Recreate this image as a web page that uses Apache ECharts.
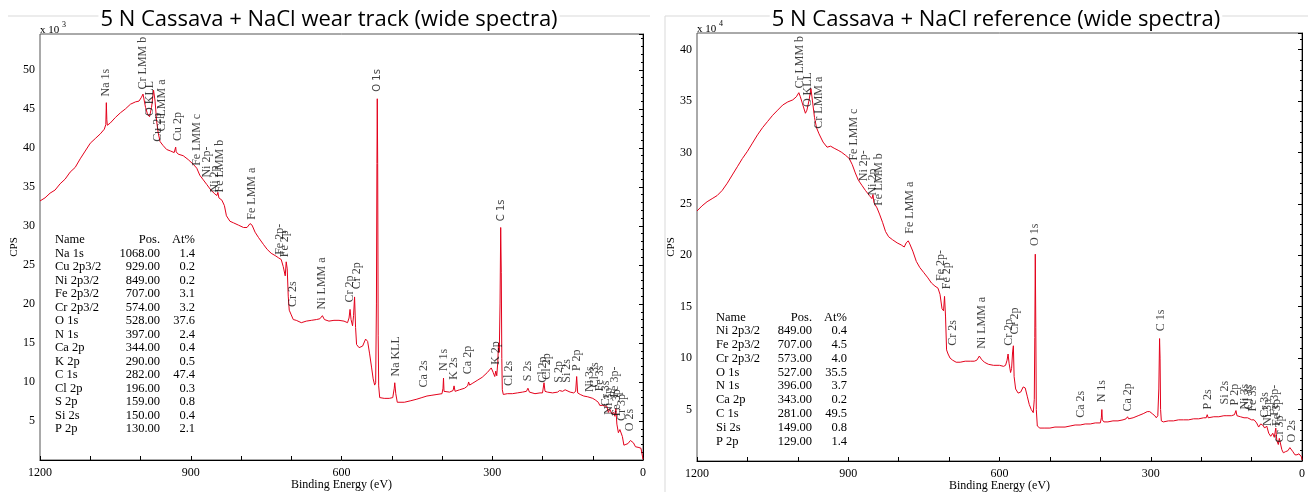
<!DOCTYPE html>
<html>
<head>
<meta charset="utf-8">
<script src="https://cdn.jsdelivr.net/npm/echarts@6/dist/echarts.min.js"></script>
<style>
html,body{margin:0;padding:0;background:#fff}
#chart{width:1308px;height:492px}
</style>
</head>
<body>
<div id="chart"></div>
<script>
// XPS survey spectra, [binding energy (eV), CPS]
// wear track in units of 10^3 CPS, reference in units of 10^4 CPS
var wearSpectrum = [
  [1200,33.2],[1190,33.6],[1180,34.2],[1170,34.6],[1160,35.4],[1150,36.0],[1140,36.9],[1130,37.5],
  [1120,38.6],[1110,39.6],[1100,40.6],[1090,41.2],[1080,41.8],[1072,42.4],[1069,43.0],[1068,45.8],
  [1067,43.6],[1066,42.9],[1060,43.2],[1050,43.9],[1040,44.5],[1030,45.0],[1020,45.6],[1010,45.9],
  [1003,46.0],[998,46.5],[995,46.9],[990,45.2],[986,44.3],[982,44.0],[978,45.2],[974,47.4],
  [971,46.0],[968,43.5],[965,42.0],[961,40.8],[955,40.3],[948,39.8],[940,39.6],[933,39.4],
  [931,39.6],[930,40.1],[929,39.5],[925,39.2],[915,39.0],[905,38.5],[895,37.9],[888,37.4],
  [882,36.5],[875,35.9],[868,35.3],[860,34.6],[852,34.1],[848,33.9],[846,34.3],[844,33.6],
  [838,33.3],[833,32.6],[829,31.3],[822,30.6],[815,30.4],[805,30.1],[795,29.8],[788,29.8],
  [782,30.3],[778,30.1],[772,29.2],[765,28.5],[755,27.6],[748,27.0],[740,26.5],[732,26.2],
  [725,25.9],[720,25.7],[716,24.8],[712,23.6],[710,25.4],[708,24.5],[706,21.0],[704,19.2],
  [700,18.6],[696,18.0],[690,17.9],[680,17.6],[670,17.8],[660,17.9],[650,18.0],[643,18.1],
  [638,18.5],[634,18.0],[625,17.8],[615,17.9],[605,17.9],[595,17.8],[588,17.6],[585,18.2],
  [583,19.3],[581,18.0],[578,17.2],[576,18.5],[574,20.9],[572,17.0],[570,14.8],[565,14.4],
  [558,14.6],[552,15.5],[548,15.2],[544,13.6],[540,11.8],[537,10.4],[534,9.6],[532,9.9],
  [530.5,20],[529.5,38],[528.8,46.3],[528,38],[527,16],[526,9.5],[524,8.0],[515,7.9],
  [505,7.9],[498,8.0],[495,9.2],[494,9.9],[492,8.5],[489,7.4],[486,7.2],[475,7.4],
  [462,7.6],[450,7.8],[440,8.0],[430,8.2],[420,8.3],[410,8.4],[400,8.5],[398,9.2],
  [397,10.5],[396,8.8],[393,8.6],[385,8.7],[378,8.9],[376,9.5],[374,8.8],[365,9.0],
  [355,9.2],[349,9.5],[347,10.0],[345,9.6],[340,9.8],[330,10.2],[320,10.6],[310,11.2],
  [302,11.8],[298,11.2],[295,10.7],[293,11.4],[291,10.8],[289,12.5],[287.5,15.0],[286,13.8],
  [284.5,20],[283.2,29.8],[282,24],[281,13],[280,9.0],[278,8.4],[270,8.5],[260,8.5],
  [250,8.6],[240,8.7],[232,8.8],[229,9.2],[226,8.7],[215,8.5],[205,8.6],[200,8.6],
  [197,9.9],[195,8.8],[190,8.7],[180,8.6],[170,8.7],[166,8.9],[160,8.8],[155,9.0],
  [152,8.8],[145,8.7],[138,8.6],[134,8.8],[132,10.7],[130,8.6],[125,8.4],[118,8.2],
  [110,8.1],[100,7.9],[95,7.7],[92,7.9],[89,7.4],[86,7.0],[80,7.0],[76,6.9],
  [72,6.9],[69,6.1],[66,6.5],[62,5.9],[58,6.1],[56,5.6],[54,6.6],[52,4.6],
  [49,3.5],[46,3.9],[43,4.1],[41,3.0],[38,1.9],[34,2.0],[30,2.1],[25,2.5],
  [22,2.7],[19,2.2],[15,1.7],[12,1.5],[8,1.6],[4,1.5],[2,1.3],[0,0.1]
];

var refSpectrum = [
  [1200,24.3],[1190,24.8],[1180,25.2],[1170,25.5],[1160,25.8],[1150,26.3],[1140,27.0],[1130,27.8],
  [1120,28.6],[1110,29.4],[1100,30.1],[1090,30.9],[1080,31.7],[1070,32.4],[1060,33.0],[1050,33.6],
  [1040,34.1],[1030,34.6],[1020,34.9],[1010,35.1],[1003,35.4],[998,35.8],[995,35.4],[990,34.6],
  [985,33.8],[982,34.1],[978,35.0],[974,36.2],[971,35.0],[967,33.4],[963,32.4],[958,31.8],
  [950,31.0],[942,30.5],[935,30.6],[928,30.4],[920,30.2],[913,30.0],[905,29.7],[898,29.4],
  [892,28.8],[886,28.0],[880,27.3],[873,26.8],[866,26.3],[858,25.8],[853,25.5],[851,25.9],
  [849,25.1],[843,24.6],[838,24.0],[832,23.2],[826,22.3],[820,21.8],[812,21.5],[803,21.2],
  [795,21.0],[789,20.8],[785,21.2],[781,21.4],[778,21.1],[772,20.4],[765,19.4],[758,18.8],
  [750,18.3],[742,17.8],[735,17.3],[728,17.0],[722,16.8],[718,16.2],[714,14.8],[711,14.6],
  [709,16.0],[707,14.0],[705,10.8],[702,10.4],[698,10.0],[693,9.8],[686,9.6],[678,9.6],
  [668,9.7],[658,9.7],[650,9.7],[645,9.8],[640,10.2],[636,9.9],[630,9.6],[622,9.4],
  [612,9.3],[600,9.3],[592,9.2],[588,9.3],[585,9.8],[583,10.4],[581,9.5],[578,8.6],
  [576,9.0],[574,10.6],[572.5,11.2],[571,8.2],[568,7.0],[563,6.6],[558,6.7],[553,7.2],
  [549,7.1],[545,6.3],[541,5.5],[537,5.0],[533,4.7],[531,6],[530,12],[529,20.1],
  [528,13],[527,5],[525,3.4],[520,3.2],[510,3.2],[500,3.2],[490,3.3],[480,3.3],
  [470,3.3],[460,3.4],[450,3.5],[440,3.5],[430,3.6],[420,3.6],[410,3.7],[400,3.7],
  [398,4.2],[397,5.0],[396,4.0],[393,3.8],[385,3.8],[375,3.9],[365,3.9],[355,4.0],
  [349,4.1],[346,4.3],[344,4.1],[335,4.2],[325,4.4],[315,4.6],[307,4.8],[302,4.8],
  [297,4.6],[292,4.4],[289,4.2],[286,4.4],[284,7],[282.5,11.9],[281.5,10],[280.5,5],
  [279,3.9],[275,3.8],[265,3.9],[255,3.9],[245,4.0],[235,4.0],[225,4.0],[215,4.1],
  [205,4.1],[195,4.2],[190,4.2],[188,4.5],[186,4.2],[175,4.3],[165,4.3],[155,4.4],
  [152,4.5],[149,4.4],[140,4.4],[134,4.5],[131,4.9],[129,4.4],[122,4.3],[115,4.2],
  [108,4.2],[100,4.0],[95,4.0],[90,3.7],[86,3.3],[82,3.6],[78,3.5],[74,3.2],
  [70,3.4],[66,2.7],[62,2.4],[58,2.7],[55,2.3],[52,3.2],[50,2.0],[47,1.6],
  [45,2.2],[42,2.2],[40,1.1],[37,0.8],[33,0.9],[28,1.0],[24,1.3],[21,1.3],
  [18,0.9],[14,0.6],[10,0.6],[6,0.7],[3,0.8],[1,0.4],[0,0.1]
];

// peak annotations: [label, binding energy, height where the text starts]
var wearPeakLabels = [
  ['Na 1s',1068,46.6],['Cr LMM b',996,47.5],['O KLL',981,44.1],['Cu 2p',966,40.8],
  ['Cr LMM a',958,42.1],['Cu 2p',925,40.9],['Fe LMM c',888,37.7],['Ni 2p-',868,36.2],
  ['Ni 2p',852,34.3],['Fe LMM b',842,34.3],['Fe LMM a',779,30.8],['Fe 2p-',722,26.3],
  ['Fe 2p',712,26.0],['Cr 2s',696,19.6],['Ni LMM a',640,19.3],['Cr 2p',584,20.2],
  ['Cr 2p',570,21.9],['O 1s',528,47.2],['Na KLL',492,10.7],['Ca 2s',436,9.3],
  ['N 1s',397,11.4],['K 2s',376,10.3],['Ca 2p',348,11.0],['K 2p',293,12.2],
  ['C 1s',282,30.6],['Cl 2s',267,9.5],['S 2s',230,10.1],['Cl 2p',199,9.9],
  ['Cl 2p',192,10.3],['S 2p',168,9.9],['Si 2s',152,9.9],['P 2p',132,11.4],
  ['Ni 3s',105,8.7],['Cl 3s',96,9.3],['Fe 3s',86,8.8],['Cr 3s',74,6.9],
  ['Ni 3p',68,5.8],['Fe 3p-',56,8.0],['Fe 3p',52,5.6],['Cr 3p',42,5.0],['O 2s',26,3.7]
];

var refPeakLabels = [
  ['Cr LMM b',997,36.2],['O KLL',981,34.4],['Cr LMM a',958,32.3],['Fe LMM c',889,29.2],
  ['Ni 2p-',869,27.2],['Ni 2p',852,25.8],['Fe LMM b',839,24.8],['Fe LMM a',777,22.1],
  ['Fe 2p-',717,17.5],['Fe 2p',704,16.7],['Cr 2s',692,11.2],['Ni LMM a',635,10.9],
  ['Cr 2p',582,11.2],['Cr 2p',569,12.3],['O 1s',529,20.9],['Ca 2s',438,4.2],
  ['N 1s',397,5.7],['Ca 2p',345,4.8],['C 1s',280,12.6],['P 2s',186,5.0],
  ['Si 2s',153,5.5],['P 2p',133,5.4],['Ni 3s',114,5.0],['Cl 3s',105,5.0],
  ['Fe 3s',98,4.8],['Cr 3s',74,4.2],['Ni 3p',67,3.4],['Fe 3p-',54,4.4],
  ['Fe 3p',49,3.4],['Cr 3p',44,1.8],['O 2s',21,1.8]
];

// quantification tables: name, position (eV), atomic %
var wearNames = ['Na 1s','Cu 2p3/2','Ni 2p3/2','Fe 2p3/2','Cr 2p3/2','O 1s','N 1s','Ca 2p','K 2p','C 1s','Cl 2p','S 2p','Si 2s','P 2p'];
var wearPos = ['1068.00','929.00','849.00','707.00','574.00','528.00','397.00','344.00','290.00','282.00','196.00','159.00','150.00','130.00'];
var wearAt = ['1.4','0.2','0.2','3.1','3.2','37.6','2.4','0.4','0.5','47.4','0.3','0.8','0.4','2.1'];

var refNames = ['Ni 2p3/2','Fe 2p3/2','Cr 2p3/2','O 1s','N 1s','Ca 2p','C 1s','Si 2s','P 2p'];
var refPos = ['849.00','707.00','573.00','527.00','396.00','343.00','281.00','149.00','129.00'];
var refAt = ['0.4','4.5','4.0','35.5','3.7','0.2','49.5','0.8','1.4'];

var titles = ['5 N Cassava + NaCl wear track (wide spectra)', '5 N Cassava + NaCl reference (wide spectra)'];

var SERIF = 'Liberation Serif';
var chart = echarts.init(document.getElementById('chart'));

function xAxisFor(idx) {
  return {
    type: 'value', gridIndex: idx, inverse: true, min: 0, max: 1200, interval: 100,
    name: 'Binding Energy (eV)', nameLocation: 'middle', nameGap: 19, nameMoveOverlap: false,
    nameTextStyle: {fontFamily: SERIF, fontSize: 12, color: '#000'},
    axisLine: {lineStyle: {color: '#000', width: 1}},
    axisTick: {inside: true, length: 4, lineStyle: {color: '#000'}},
    axisLabel: {fontFamily: SERIF, fontSize: 12, color: '#000', margin: 7,
      formatter: function (v) { return v % 300 === 0 ? String(v) : ''; }},
    splitLine: {show: false}
  };
}

function yAxisFor(idx, top) {
  return {
    type: 'value', gridIndex: idx, min: 0, max: top, interval: 5,
    name: 'CPS', nameLocation: 'middle', nameGap: 20, nameRotate: 90, nameMoveOverlap: false,
    nameTextStyle: {fontFamily: SERIF, fontSize: 11, color: '#000'},
    axisLine: {show: true, lineStyle: {color: '#000', width: 1}},
    axisTick: {length: 4, lineStyle: {color: '#000'}},
    minorTick: {show: true, splitNumber: 5, length: 2, lineStyle: {color: '#000'}},
    axisLabel: {fontFamily: SERIF, fontSize: 12, color: '#000', margin: 5,
      formatter: function (v) { return (v > 0 && v % 5 === 0) ? String(v) : ''; }},
    splitLine: {show: false}
  };
}

// the wear-track plot prints its two main peak names in a smaller sans face
function labelSeries(list, idx, sansNames) {
  return {
    type: 'scatter', xAxisIndex: idx, yAxisIndex: idx, silent: true,
    symbolSize: 1, itemStyle: {color: 'rgba(0,0,0,0)'},
    data: list.map(function (p) { return {name: p[0], value: [p[1], p[2]]}; }),
    label: {show: true, position: 'inside', rotate: 90,
      align: 'left', verticalAlign: 'middle',
      formatter: function (p) {
        return sansNames.indexOf(p.name) >= 0 ? '{s|' + p.name + '}' : p.name;
      },
      rich: {s: {fontFamily: 'DejaVu Sans', fontSize: 10, color: '#111'}},
      fontFamily: SERIF, fontSize: 12, color: '#111'},
    z: 5
  };
}

function tableGraphics(names, pos, at, x0, xPos, xAt, yHead, y0, dy) {
  var els = [];
  var font = '12.5px "' + SERIF + '"';
  els.push({type: 'text', x: x0, y: yHead, style: {text: 'Name', font: font, fill: '#000', verticalAlign: 'middle'}});
  els.push({type: 'text', x: xPos, y: yHead, style: {text: 'Pos.', font: font, fill: '#000', align: 'right', verticalAlign: 'middle'}});
  els.push({type: 'text', x: xAt, y: yHead, style: {text: 'At%', font: font, fill: '#000', align: 'right', verticalAlign: 'middle'}});
  for (var i = 0; i < names.length; i++) {
    var y = y0 + i * dy;
    els.push({type: 'text', x: x0, y: y, style: {text: names[i], font: font, fill: '#000', verticalAlign: 'middle'}});
    els.push({type: 'text', x: xPos, y: y, style: {text: pos[i], font: font, fill: '#000', align: 'right', verticalAlign: 'middle'}});
    els.push({type: 'text', x: xAt, y: y, style: {text: at[i], font: font, fill: '#000', align: 'right', verticalAlign: 'middle'}});
  }
  return els;
}

var graphics = [
  {type: 'line', shape: {x1: 8, y1: 16, x2: 650, y2: 16}, style: {stroke: '#d9d9d9', lineWidth: 1}, z: -1},
  {type: 'line', shape: {x1: 665, y1: 16, x2: 1308, y2: 16}, style: {stroke: '#d9d9d9', lineWidth: 1}, z: -1},
  {type: 'line', shape: {x1: 665, y1: 16, x2: 665, y2: 492}, style: {stroke: '#d9d9d9', lineWidth: 1}, z: -1},
  {type: 'text', x: 40, y: 25, style: {text: 'x 10', font: '11px "' + SERIF + '"', fill: '#000'}},
  {type: 'text', x: 62, y: 21, style: {text: '3', font: '8px "' + SERIF + '"', fill: '#000'}},
  {type: 'text', x: 697, y: 24, style: {text: 'x 10', font: '11px "' + SERIF + '"', fill: '#000'}},
  {type: 'text', x: 719, y: 20, style: {text: '4', font: '8px "' + SERIF + '"', fill: '#000'}}
].concat(
  tableGraphics(wearNames, wearPos, wearAt, 55, 160, 195, 240, 253.5, 13.5),
  tableGraphics(refNames, refPos, refAt, 716, 812, 847, 317.5, 331, 13.8)
);

var option = {
  animation: false,
  backgroundColor: '#fff',
  title: [
    {text: titles[0], left: 327, top: 9, textAlign: 'center', padding: [0, 2],
     backgroundColor: '#fff',
     textStyle: {fontFamily: 'Open Sans', fontSize: 22, fontWeight: 'normal', color: '#000'}},
    {text: titles[1], left: 994, top: 9, textAlign: 'center', padding: [0, 2],
     backgroundColor: '#fff',
     textStyle: {fontFamily: 'Open Sans', fontSize: 22, fontWeight: 'normal', color: '#000'}}
  ],
  grid: [
    {left: 40, right: 665, top: 34, bottom: 32, show: true, borderColor: '#555', borderWidth: 1,
     outerBoundsMode: 'none'},
    {left: 697, right: 6, top: 33, bottom: 31, show: true, borderColor: '#555', borderWidth: 1,
     outerBoundsMode: 'none'}
  ],
  xAxis: [xAxisFor(0), xAxisFor(1)],
  yAxis: [yAxisFor(0, 54.6), yAxisFor(1, 41.6)],
  series: [
    {type: 'line', xAxisIndex: 0, yAxisIndex: 0, data: wearSpectrum, showSymbol: false,
     lineStyle: {color: '#e3001b', width: 1}, z: 3},
    {type: 'line', xAxisIndex: 1, yAxisIndex: 1, data: refSpectrum, showSymbol: false,
     lineStyle: {color: '#e3001b', width: 1}, z: 3},
    labelSeries(wearPeakLabels, 0, ['O 1s', 'C 1s']),
    labelSeries(refPeakLabels, 1, [])
  ],
  graphic: graphics
};

chart.setOption(option);
</script>
</body>
</html>
